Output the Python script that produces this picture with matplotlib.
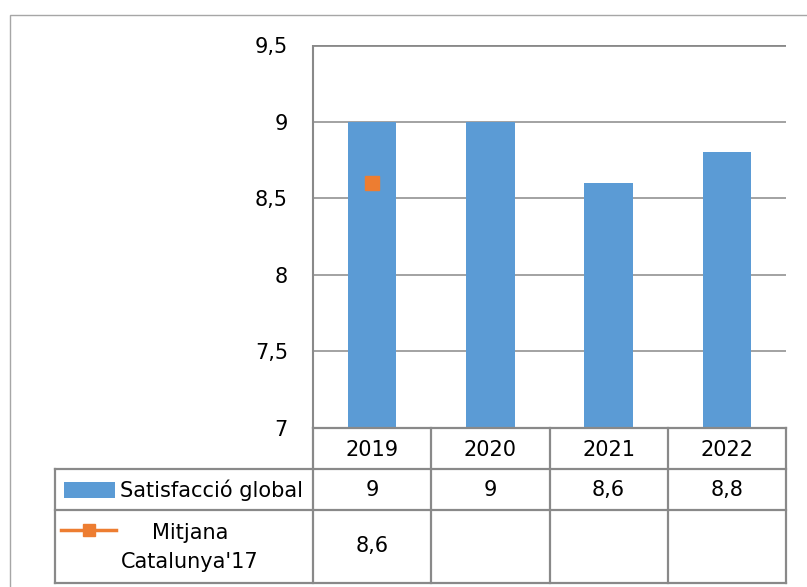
"""Satisfacció global per any, amb taula de dades a sota (estil Excel)."""
import matplotlib as mpl
import matplotlib.pyplot as plt
from matplotlib.patches import Rectangle

mpl.rcParams.update({
    "font.family": "DejaVu Sans",
    "font.size": 15,
    "text.color": "black",
    "ytick.color": "black",
})

# Dades
anys = ["2019", "2020", "2021", "2022"]
satisfaccio = [9, 9, 8.6, 8.8]
mitjana_cat = [8.6, None, None, None]
serie_noms = ["Satisfacció global", "Mitjana\nCatalunya'17"]
y_ticks = [7, 7.5, 8, 8.5, 9, 9.5]

BLAU = "#5B9BD5"
TARONJA = "#ED7D31"
GRIS = "#898989"

W, H = 807, 587
fig = plt.figure(figsize=(W / 100, H / 100), dpi=100)


def fx(px):
    return px / W


def fy(py):
    return 1 - py / H


def coma(v):
    return f"{v:g}".replace(".", ",")


# marc exterior
fig.patches.append(Rectangle((fx(10), fy(600)), fx(820), fy(15) - fy(600),
                             transform=fig.transFigure, fill=False,
                             edgecolor="#a6a6a6", linewidth=1.0))

# zona del gràfic
ax = fig.add_axes([fx(313), fy(428), fx(786 - 313), fy(45) - fy(428)])
x = list(range(len(anys)))
ax.bar(x, satisfaccio, width=0.41, color=BLAU, zorder=2)
mx = [i for i, v in zip(x, mitjana_cat) if v is not None]
my = [v for v in mitjana_cat if v is not None]
ax.plot(mx, my, color=TARONJA, marker="s", markersize=9.5, linewidth=2.5,
        linestyle="-", zorder=3)

ax.set_xlim(-0.5, len(anys) - 0.5)
ax.set_ylim(7, 9.5)
ax.set_yticks(y_ticks)
ax.set_yticklabels([coma(t) for t in y_ticks])
ax.tick_params(axis="y", length=0, pad=18)
ax.set_xticks([])
ax.grid(axis="y", color=GRIS, linewidth=1.1, zorder=0)
ax.set_axisbelow(True)
for s in ("top", "right", "bottom"):
    ax.spines[s].set_visible(False)
ax.spines["left"].set_color(GRIS)
ax.spines["left"].set_linewidth(1.5)
ax.spines["left"].set_capstyle("butt")
ax.axhline(9.5, color=GRIS, linewidth=2.0, zorder=1)

# taula de dades
tax = fig.add_axes([fx(55), fy(583), fx(786 - 55), fy(428) - fy(583)])
col_w = (786 - 313) / len(anys)
x0 = -0.5 - (313 - 55) / col_w
xmax = len(anys) - 0.5
tax.set_xlim(x0, xmax)
files = [0, 41, 82, 155]
tax.set_ylim(files[-1], 0)
tax.axis("off")

lw = 1.6
tax.plot([-0.5, xmax], [files[0]] * 2, color=GRIS, lw=lw, clip_on=False)
for yy in files[1:]:
    tax.plot([x0, xmax], [yy] * 2, color=GRIS, lw=lw, clip_on=False)
tax.plot([x0, x0], [files[1], files[3]], color=GRIS, lw=lw, clip_on=False)
for i in range(len(anys) + 1):
    tax.plot([i - 0.5] * 2, [files[0], files[3]], color=GRIS, lw=lw, clip_on=False)

# capçaleres d'anys
for i, a in enumerate(anys):
    tax.text(i, (files[0] + files[1]) / 2 + 1, a, ha="center", va="center")

# fila satisfacció
yc1 = (files[1] + files[2]) / 2
for i, v in enumerate(satisfaccio):
    tax.text(i, yc1 + 1, coma(v), ha="center", va="center")
# fila mitjana
yc2 = (files[2] + files[3]) / 2
for i, v in enumerate(mitjana_cat):
    if v is not None:
        tax.text(i, yc2, coma(v), ha="center", va="center")


# etiquetes de sèrie amb el símbol de llegenda
def xd(px):
    return x0 + (px - 55) / col_w


tax.add_patch(Rectangle((xd(64), yc1 - 8), xd(115) - xd(64), 16,
                        facecolor=BLAU, edgecolor="none", clip_on=False))
tax.text(xd(120), yc1 + 1, serie_noms[0], ha="left", va="center")
tax.plot([xd(61), xd(116)], [yc2 - 17] * 2, color=TARONJA, lw=2.5,
         clip_on=False)
tax.plot([(xd(61) + xd(116)) / 2], [yc2 - 17], marker="s", markersize=9,
         color=TARONJA, clip_on=False)
tax.text(xd(190), yc2 + 1, serie_noms[1], ha="center", va="center",
         linespacing=1.6)

fig.savefig("out.png", dpi=100)
